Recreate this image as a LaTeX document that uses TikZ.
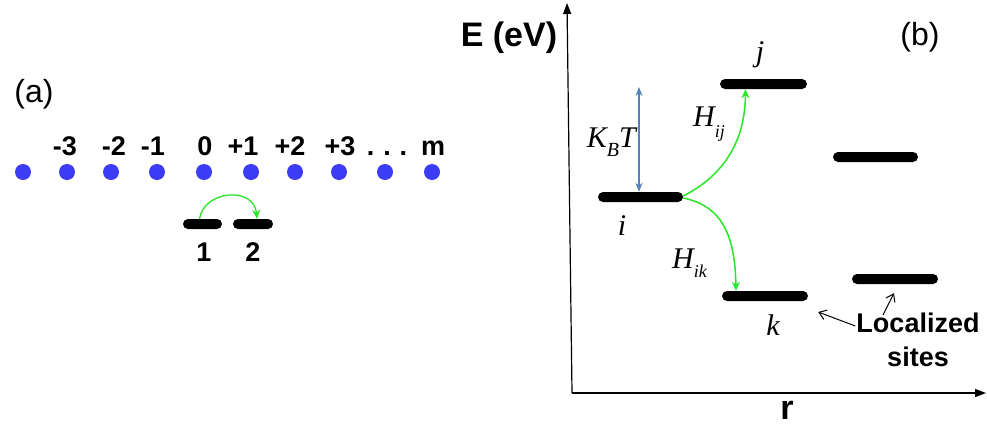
\documentclass[tikz,border=0pt]{standalone}
\usepackage{fontspec}
\setmainfont{Liberation Sans}
\newfontfamily\tms{Liberation Serif}
\usetikzlibrary{arrows.meta,calc}
\definecolor{dotblue}{RGB}{60,60,245}
\definecolor{kbblue}{RGB}{80,130,190}
\definecolor{hopgreen}{RGB}{40,230,40}
\tikzset{
  site/.style={circle,fill=dotblue,inner sep=0pt,minimum size=16pt},
  lbl/.style={font=\fontsize{27}{30}\selectfont\bfseries,inner sep=0pt},
  bigl/.style={font=\fontsize{32}{36}\selectfont,inner sep=0pt},
  bar/.style={fill=black,rounded corners=5pt,inner sep=0pt,minimum height=10pt},
  mathl/.style={font=\fontsize{30}{34}\selectfont\tms\itshape,inner sep=0pt},
  hop/.style={draw=hopgreen,line width=1.5pt,-{Stealth[length=9pt,width=8pt]}},
  axis/.style={draw=black,line width=1.2pt,-{Triangle[length=11pt,width=8pt]}},
  ptr/.style={draw=black,line width=1pt,-{Straight Barb[length=7pt,width=10pt]}},
}
\begin{document}
\begin{tikzpicture}[x=1pt,y=-1pt]
\useasboundingbox (0,0) rectangle (987,429);
% ---------- panel (a)
\node[bigl] (la) at (34,94) {(a)};
\foreach \i/\x in {1/23,2/67,3/111,4/157,5/204,6/251,7/295,8/339,9/385,10/432}
  \node[site] (d\i) at (\x,172) {};
\foreach \t/\x in {-3/65,-2/114,-1/153,0/205,+1/243,+2/290,+3/340,{.\,\,.\,\,.}/387,m/433}
  \node[lbl,anchor=base] at (\x,155) {\t};
\node[bar,minimum width=39pt] (a1) at (202.5,224) {};
\node[bar,minimum width=40pt] (a2) at (253,224) {};
\node[lbl] (n1) at (204,252) {1};
\node[lbl] (n2) at (253,252) {2};
\draw[hop,line width=1.3pt] ([xshift=-3pt]a1.north) .. controls (204,190) and (254,186) .. ([xshift=4pt]a2.north);
% ---------- panel (b)
\coordinate (O) at (572,393);
\coordinate (Ytop) at (567,3);
\coordinate (Xend) at (986,393);
\draw[axis] (O) -- (Ytop);
\draw[axis] (O) -- (Xend);
\node[font=\fontsize{34}{38}\selectfont\bfseries,inner sep=0pt] (E) at (509,38) {E (eV)};
\node[bigl] (lb) at (920,37) {(b)};
\node[font=\fontsize{34}{38}\selectfont\bfseries,inner sep=0pt] (r) at (787,410) {r};

\node[bar,minimum width=85pt] (bi) at (640.5,197) {};
\node[bar,minimum width=87pt] (bj) at (763.5,84) {};
\node[bar,minimum width=85pt] (bm) at (875.5,157) {};
\node[bar,minimum width=86pt] (bk) at (765,296) {};
\node[bar,minimum width=86pt] (bl) at (895,279) {};

\node[mathl] (tj) at (760,55) {j};
\node[mathl] (ti) at (622,226) {i};
\node[mathl] (tk) at (773,325) {k};
\node[mathl,anchor=east] (kbt) at (636,142) {K\raisebox{-0.3em}{\fontsize{20}{20}\selectfont B}T};
\node[mathl,anchor=west] (hij) at (693,124) {H\raisebox{-0.35em}{\fontsize{18}{18}\selectfont ij}};
\node[mathl,anchor=west] (hik) at (672,263) {H\raisebox{-0.3em}{\fontsize{18}{18}\selectfont ik}};

\coordinate (kt) at (639,87);
\draw[draw=kbblue,line width=1.2pt,{Stealth[length=9pt,width=7pt]}-{Stealth[length=9pt,width=7pt]}] (kt) -- (kt |- bi.north);

\draw[hop] ([yshift=1pt]bi.east) .. controls (715,180) and (745,150) .. ([xshift=-18pt]bj.south);
\draw[hop] ([yshift=-1pt]bi.east) .. controls (722,206) and (735,235) .. ([xshift=-29pt]bk.north);

\node[font=\fontsize{27}{30}\selectfont\bfseries,inner sep=0pt] (loc) at (918,323) {Localized};
\node[font=\fontsize{27}{30}\selectfont\bfseries,inner sep=0pt] (sit) at (918,357) {sites};
\draw[ptr] ([xshift=-1pt,yshift=-3pt]loc.west) -- ([xshift=10pt,yshift=-16pt]bk.east);
\draw[ptr] ([xshift=-35pt,yshift=-2pt]loc.north) -- ([xshift=-1pt,yshift=-9pt]bl.south);
\end{tikzpicture}
\end{document}
